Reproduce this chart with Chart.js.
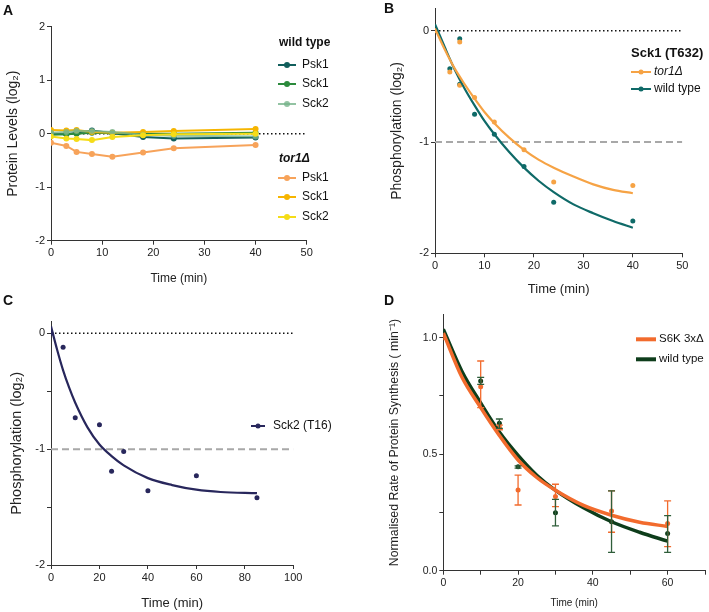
<!DOCTYPE html>
<html lang="en">
<head>
<meta charset="UTF-8">
<title>Phosphorylation and protein synthesis</title>
<script src="https://cdn.jsdelivr.net/npm/chart.js"></script>
<style>
    body {
        margin: 0;
        background: #fff;
        font-family: "Liberation Sans", Arial, sans-serif;
    }
    #page {
        position: relative;
        width: 709px;
        height: 612px;
    }
    .panel { position: absolute; }
    .letter {
        position: absolute;
        font-weight: bold;
        font-size: 14px;
        line-height: 16px;
        color: #111;
    }
</style>
</head>
<body>
<div id="page">
    <div class="panel" style="left:0;top:0;width:354px;height:300px"><canvas id="chartA"></canvas></div>
    <div class="panel" style="left:354px;top:0;width:355px;height:300px"><canvas id="chartB"></canvas></div>
    <div class="panel" style="left:0;top:300px;width:354px;height:312px"><canvas id="chartC"></canvas></div>
    <div class="panel" style="left:354px;top:300px;width:355px;height:312px"><canvas id="chartD"></canvas></div>
    <div class="letter" style="left:3px;top:2px">A</div>
    <div class="letter" style="left:384px;top:0px">B</div>
    <div class="letter" style="left:3px;top:292px">C</div>
    <div class="letter" style="left:384px;top:292px">D</div>
</div>

<script>
    // ---- Panel A : protein levels ----
    const timeA = [0, 3, 5, 8, 12, 18, 24, 40];
    const wtPsk1 = [0.0, -0.01, 0.02, 0.06, 0.01, -0.06, -0.09, -0.07];
    const wtSck1 = [-0.02, -0.01, 0.0, 0.02, 0.01, 0.0, 0.0, 0.02];
    const wtSck2 = [0.02, 0.03, 0.05, 0.05, 0.03, -0.02, -0.04, -0.05];
    const torPsk1 = [-0.17, -0.23, -0.34, -0.38, -0.43, -0.35, -0.27, -0.21];
    const torSck1 = [0.07, 0.06, 0.07, 0.03, 0.02, 0.03, 0.05, 0.09];
    const torSck2 = [-0.05, -0.09, -0.10, -0.12, -0.06, -0.03, -0.01, 0.0];
    const ticksXA = [0, 10, 20, 30, 40, 50];
    const ticksYA = [-2, -1, 0, 1, 2];

    // ---- Panel B : Sck1 (T632) ----
    const timeB = [0, 3, 5, 5, 8, 12, 18, 24, 40];
    const torPointsB = [0, -0.37, -0.10, -0.49, -0.60, -0.82, -1.07, -1.36, -1.39];
    const wtPointsB = [0, -0.34, -0.07, -0.48, -0.75, -0.93, -1.22, -1.54, -1.71];
    const fitTimeB = [0, 2, 4, 6, 8, 10, 12, 15, 18, 21, 24, 28, 32, 36, 40];
    const torFitB = [0.02, -0.17, -0.34, -0.48, -0.61, -0.73, -0.83, -0.96, -1.07, -1.16, -1.23, -1.31, -1.38, -1.43, -1.46];
    const wtFitB = [0.06, -0.15, -0.35, -0.52, -0.67, -0.81, -0.93, -1.09, -1.23, -1.35, -1.45, -1.56, -1.64, -1.71, -1.77];
    const ticksXB = [0, 10, 20, 30, 40, 50];
    const ticksYB = [-2, -1, 0];

    // ---- Panel C : Sck2 (T16) ----
    const timeC = [0, 5, 10, 20, 25, 30, 40, 60, 85];
    const pointsC = [0, -0.12, -0.73, -0.79, -1.19, -1.02, -1.36, -1.23, -1.42];
    const fitTimeC = [0, 2.5, 5, 7.5, 10, 15, 20, 25, 30, 40, 50, 60, 70, 85];
    const fitC = [0.06, -0.14, -0.32, -0.47, -0.60, -0.81, -0.96, -1.06, -1.14, -1.25, -1.31, -1.35, -1.37, -1.38];
    const ticksXC = [0, 20, 40, 60, 80, 100];
    const ticksYC = [-2, -1.5, -1, -0.5, 0];

    // ---- Panel D : protein synthesis ----
    const timeD = [0, 10, 15, 20, 30, 45, 60];
    const s6kD = [1.0, 0.79, 0.615, 0.346, 0.318, 0.256, 0.203];
    const s6kLow = [1.0, 0.70, 0.605, 0.282, 0.275, 0.165, 0.103];
    const s6kHigh = [1.0, 0.90, 0.625, 0.41, 0.371, 0.343, 0.30];
    const wtD = [1.0, 0.814, 0.633, 0.446, 0.249, 0.21, 0.16];
    const wtLow = [1.0, 0.80, 0.611, 0.44, 0.192, 0.079, 0.079];
    const wtHigh = [1.0, 0.83, 0.651, 0.45, 0.306, 0.343, 0.236];
    const fitTimeD = [0, 5, 10, 15, 20, 25, 30, 37.5, 45, 52.5, 60];
    const s6kFitD = [1.02, 0.83, 0.70, 0.58, 0.475, 0.40, 0.345, 0.28, 0.238, 0.208, 0.19];
    const wtFitD = [1.036, 0.855, 0.72, 0.595, 0.495, 0.41, 0.345, 0.27, 0.21, 0.165, 0.127];
    const ticksXD = [0, 10, 20, 30, 40, 50, 60, 70];
    const ticksYD = [0, 0.25, 0.5, 0.75, 1.0];

    Chart.defaults.font.family = '"Liberation Sans", Arial, sans-serif';
    Chart.defaults.color = '#222';

    const FONT = '"Liberation Sans", Arial, sans-serif';

    function xy(xs, ys) {
        return xs.map((x, i) => ({ x: x, y: ys[i] }));
    }

    // dotted / dashed reference lines
    function refLine(x0, x1, y, kind) {
        return {
            data: [{ x: x0, y: y }, { x: x1, y: y }],
            showLine: true,
            pointRadius: 0,
            borderColor: kind === 'dot' ? '#111' : '#a8a8a8',
            borderWidth: kind === 'dot' ? 1.5 : 2,
            borderDash: kind === 'dot' ? [1.5, 2.5] : [7, 4],
            order: 10
        };
    }

    // legends drawn onto the canvas, keyed by canvas id
    const legends = {};
    const overlayLegend = {
        id: 'overlayLegend',
        afterDraw(chart) {
            const items = legends[chart.canvas.id] || [];
            const ctx = chart.ctx;
            items.forEach(it => {
                ctx.save();
                if (it.color) {
                    ctx.strokeStyle = it.color;
                    ctx.lineWidth = it.lw || 2;
                    ctx.beginPath();
                    ctx.moveTo(it.x0, it.y);
                    ctx.lineTo(it.x1, it.y);
                    ctx.stroke();
                    if (it.dot) {
                        ctx.fillStyle = it.color;
                        ctx.beginPath();
                        ctx.arc((it.x0 + it.x1) / 2, it.y, it.dot, 0, Math.PI * 2);
                        ctx.fill();
                    }
                }
                ctx.font = it.font || ('12px ' + FONT);
                ctx.fillStyle = '#111';
                ctx.textBaseline = 'middle';
                ctx.fillText(it.text, it.tx, it.y);
                ctx.restore();
            });
        }
    };

    // error bars for datasets carrying errLow / errHigh
    const errorBars = {
        id: 'errorBars',
        afterDatasetsDraw(chart) {
            const ctx = chart.ctx;
            const xs = chart.scales.x, ys = chart.scales.y;
            chart.data.datasets.forEach(ds => {
                if (!ds.errLow) return;
                ctx.save();
                ctx.strokeStyle = ds.errColor || ds.borderColor;
                ctx.lineWidth = 1.3;
                ds.data.forEach((p, i) => {
                    const lo = ds.errLow[i], hi = ds.errHigh[i];
                    if (hi - lo < 0.005) return;
                    const px = xs.getPixelForValue(p.x);
                    const y1 = ys.getPixelForValue(lo), y2 = ys.getPixelForValue(hi);
                    ctx.beginPath();
                    ctx.moveTo(px, y1); ctx.lineTo(px, y2);
                    ctx.moveTo(px - 3.5, y1); ctx.lineTo(px + 3.5, y1);
                    ctx.moveTo(px - 3.5, y2); ctx.lineTo(px + 3.5, y2);
                    ctx.stroke();
                });
                ctx.restore();
            });
        }
    };

    function makeOptions(c) {
        return {
            responsive: true,
            maintainAspectRatio: false,
            animation: false,
            layout: { padding: c.padding },
            plugins: { legend: { display: false }, tooltip: { enabled: false } },
            scales: {
                x: {
                    type: 'linear',
                    min: c.xMin, max: c.xMax,
                    afterFit: s => { s.height = c.xHeight; },
                    afterBuildTicks: s => { s.ticks = c.xTicks.map(v => ({ value: v })); },
                    ticks: {
                        autoSkip: false, maxRotation: 0, padding: 2,
                        font: { size: c.tickSize || 11 }, color: '#222',
                        callback: v => c.xLabel(v)
                    },
                    grid: { drawOnChartArea: false, drawTicks: true, tickLength: 4, color: '#333' },
                    border: { display: true, color: '#333', width: 1 },
                    title: {
                        display: true, text: 'Time (min)', color: '#222',
                        font: { size: c.xTitleSize || 12 }, padding: { top: 0, bottom: c.xTitlePad }
                    }
                },
                y: {
                    type: 'linear',
                    min: c.yMin, max: c.yMax,
                    afterFit: s => { s.width = c.yWidth; },
                    afterBuildTicks: s => { s.ticks = c.yTicks.map(v => ({ value: v })); },
                    ticks: {
                        autoSkip: false, padding: 2,
                        font: { size: c.tickSize || 11 }, color: '#222',
                        callback: v => c.yLabel(v)
                    },
                    grid: { drawOnChartArea: false, drawTicks: true, tickLength: 4, color: '#333' },
                    border: { display: true, color: '#333', width: 1 },
                    title: {
                        display: true, text: c.yTitle, color: '#222',
                        font: { size: c.yTitleSize || 12 }, padding: { top: c.yTitlePad, bottom: 0 }
                    }
                }
            }
        };
    }

    function lineSeries(xs, ys, color, radius) {
        return {
            data: xy(xs, ys), showLine: true, borderColor: color, backgroundColor: color,
            borderWidth: 2, pointRadius: radius, pointBorderWidth: 0, tension: 0
        };
    }
    function dotSeries(xs, ys, color, radius) {
        return {
            data: xy(xs, ys), showLine: false, backgroundColor: color, borderColor: color,
            pointRadius: radius, pointBorderWidth: 0
        };
    }
    function fitSeries(xs, ys, color, width) {
        return {
            data: xy(xs, ys), showLine: true, borderColor: color, borderWidth: width,
            pointRadius: 0, cubicInterpolationMode: 'monotone'
        };
    }

    const intLabel = v => Number.isInteger(v) ? String(v) : '';

    // colours
    const cWtPsk1 = '#125f5c', cWtSck1 = '#2b8a3c', cWtSck2 = 'rgba(120,180,140,0.8)';
    const cTorPsk1 = '#f7a35a', cTorSck1 = '#f6b500', cTorSck2 = '#f5dc18';
    const cTorB = '#f6a345', cWtB = '#0f6a68', cNavy = '#28275c';
    const cS6K = '#f26b2d', cWtD = '#0e3d1b';

    // ---------- A ----------
    const bold = 'bold 12px ' + FONT, reg = '12px ' + FONT;
    legends.chartA = [
        { text: 'wild type', tx: 279, y: 43, font: bold },
        { text: 'Psk1', tx: 302, y: 65, color: cWtPsk1, x0: 278, x1: 296, dot: 3, font: reg },
        { text: 'Sck1', tx: 302, y: 84, color: cWtSck1, x0: 278, x1: 296, dot: 3, font: reg },
        { text: 'Sck2', tx: 302, y: 104, color: cWtSck2, x0: 278, x1: 296, dot: 3, font: reg },
        { text: 'tor1Δ', tx: 279, y: 159, font: 'italic bold 12px ' + FONT },
        { text: 'Psk1', tx: 302, y: 178, color: cTorPsk1, x0: 278, x1: 296, dot: 3, font: reg },
        { text: 'Sck1', tx: 302, y: 197, color: cTorSck1, x0: 278, x1: 296, dot: 3, font: reg },
        { text: 'Sck2', tx: 302, y: 217, color: cTorSck2, x0: 278, x1: 296, dot: 3, font: reg }
    ];
    new Chart(document.getElementById('chartA'), {
        type: 'scatter',
        data: {
            datasets: [
                refLine(0, 50, 0, 'dot'),
                lineSeries(timeA, torPsk1, cTorPsk1, 3),
                lineSeries(timeA, torSck2, cTorSck2, 3),
                lineSeries(timeA, wtSck2, cWtSck2, 3),
                lineSeries(timeA, torSck1, cTorSck1, 3),
                lineSeries(timeA, wtSck1, cWtSck1, 3),
                lineSeries(timeA, wtPsk1, cWtPsk1, 3)
            ]
        },
        options: makeOptions({
            padding: { left: 0, top: 26.7, right: 47.3, bottom: 0 },
            xMin: 0, xMax: 50, xTicks: ticksXA, xLabel: intLabel, xHeight: 59.3, xTitlePad: 13.8,
            yMin: -2, yMax: 2, yTicks: ticksYA, yLabel: intLabel, yWidth: 51,
            yTitleSize: 14, yTitlePad: 4.9,
            yTitle: 'Protein Levels (log₂)'
        }),
        plugins: [overlayLegend]
    });

    // ---------- B ----------
    legends.chartB = [
        { text: 'Sck1 (T632)', tx: 277, y: 53, font: 'bold 13px ' + FONT },
        { text: 'tor1Δ', tx: 300, y: 72, color: cTorB, x0: 277, x1: 297, dot: 2.5, font: 'italic 12px ' + FONT },
        { text: 'wild type', tx: 300, y: 89, color: cWtB, x0: 277, x1: 297, dot: 2.5, font: reg }
    ];
    new Chart(document.getElementById('chartB'), {
        type: 'scatter',
        data: {
            datasets: [
                refLine(0, 50, 0, 'dot'),
                refLine(0, 50, -1, 'dash'),
                fitSeries(fitTimeB, torFitB, cTorB, 2.2),
                fitSeries(fitTimeB, wtFitB, cWtB, 2.2),
                dotSeries(timeB, torPointsB, cTorB, 2.5),
                dotSeries(timeB, wtPointsB, cWtB, 2.5)
            ]
        },
        options: makeOptions({
            padding: { left: 0, top: 6.6, right: 26.7, bottom: 0 },
            xMin: 0, xMax: 50, xTicks: ticksXB, xLabel: intLabel, xHeight: 46.7,
            xTitleSize: 13, xTitlePad: 3.2,
            yMin: -2, yMax: 0.2, yTicks: ticksYB, yLabel: intLabel, yWidth: 81,
            yTitleSize: 14, yTitlePad: 34.6,
            yTitle: 'Phosphorylation (log₂)'
        }),
        plugins: [overlayLegend]
    });

    // ---------- C ----------
    legends.chartC = [
        { text: 'Sck2 (T16)', tx: 273, y: 126, color: cNavy, x0: 251, x1: 265, dot: 2.5, font: reg }
    ];
    new Chart(document.getElementById('chartC'), {
        type: 'scatter',
        data: {
            datasets: [
                refLine(0, 100, 0, 'dot'),
                refLine(0, 100, -1, 'dash'),
                fitSeries(fitTimeC, fitC, cNavy, 2.2),
                dotSeries(timeC, pointsC, cNavy, 2.5)
            ]
        },
        options: makeOptions({
            padding: { left: 0, top: 21.7, right: 60.7, bottom: 0 },
            xMin: 0, xMax: 100, xTicks: ticksXC, xLabel: intLabel, xHeight: 47,
            xTitleSize: 13, xTitlePad: 0.9,
            yMin: -2, yMax: 0.1, yTicks: ticksYC, yLabel: intLabel, yWidth: 51,
            yTitleSize: 14.5, yTitlePad: 8,
            yTitle: 'Phosphorylation (log₂)'
        }),
        plugins: [overlayLegend]
    });

    // ---------- D ----------
    legends.chartD = [
        { text: 'S6K 3xΔ', tx: 305, y: 39.3, color: cS6K, x0: 282, x1: 302, lw: 4, font: '11.5px ' + FONT },
        { text: 'wild type', tx: 305, y: 59.3, color: cWtD, x0: 282, x1: 302, lw: 4, font: '11.5px ' + FONT }
    ];
    const s6kPts = dotSeries(timeD, s6kD, cS6K, 2.5);
    s6kPts.errLow = s6kLow; s6kPts.errHigh = s6kHigh;
    const wtPts = dotSeries(timeD, wtD, cWtD, 2.5);
    wtPts.errLow = wtLow; wtPts.errHigh = wtHigh; wtPts.errColor = '#2f5e3a';
    new Chart(document.getElementById('chartD'), {
        type: 'scatter',
        data: {
            datasets: [
                fitSeries(fitTimeD, s6kFitD, cS6K, 3.5),
                fitSeries(fitTimeD, wtFitD, cWtD, 3.5),
                s6kPts,
                wtPts
            ]
        },
        options: makeOptions({
            padding: { left: 0, top: 14.4, right: 2, bottom: 0 },
            tickSize: 10.5,
            xMin: 0, xMax: 70, xTicks: ticksXD, xLabel: v => (v % 20 === 0 && v <= 60) ? String(v) : '',
            xHeight: 41.3, xTitleSize: 10, xTitlePad: 2.7,
            yMin: 0, yMax: 1.1, yTicks: ticksYD, yLabel: v => (v * 2) % 1 === 0 ? v.toFixed(1) : '',
            yWidth: 89.3, yTitlePad: 33.6, yTitleSize: 12.3,
            yTitle: 'Normalised Rate of Protein Synthesis ( min⁻¹)'
        }),
        plugins: [overlayLegend, errorBars]
    });
</script>
</body>
</html>
